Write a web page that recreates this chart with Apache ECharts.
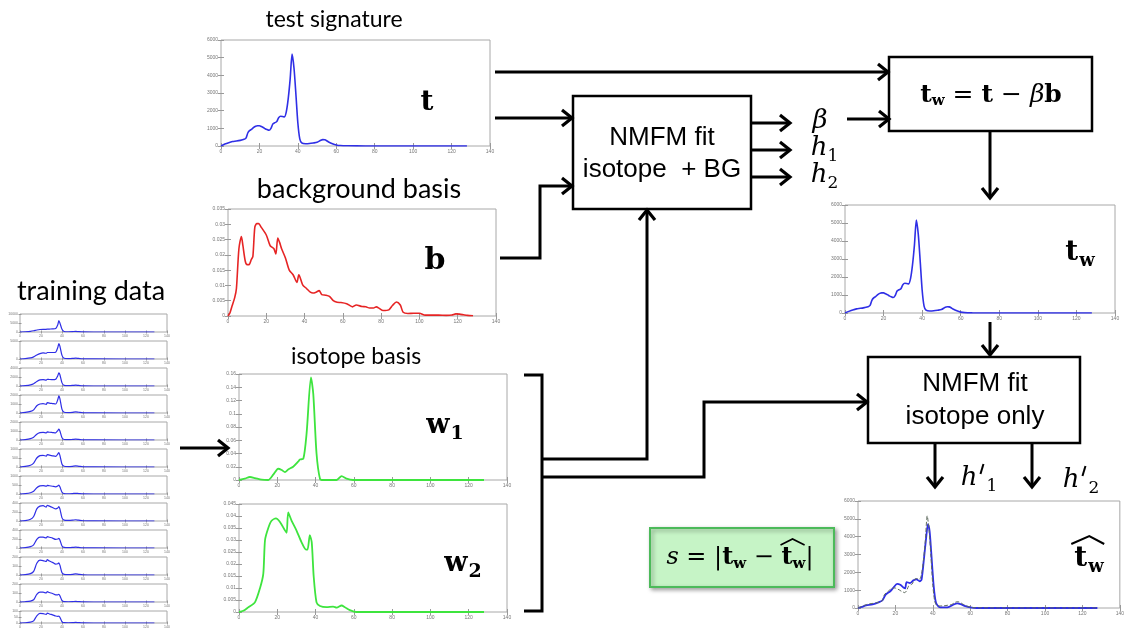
<!DOCTYPE html>
<html><head><meta charset="utf-8">
<script src="https://cdn.jsdelivr.net/npm/echarts@6/dist/echarts.min.js"></script>
<style>html,body{margin:0;padding:0;background:#fff}#c{width:1127px;height:629px}</style>
</head><body><div id="c"></div>
<script>
// ---------- data ----------
const xTicks = [0, 20, 40, 60, 80, 100, 120, 140];
const testSig = [[0,0],[2,110],[4,190],[6,250],[8,280],[10,320],[12,380],[13,450],[14,750],[15,880],[16,950],[17,1050],[18,1120],[19,1150],[20,1150],[21,1100],[22,1050],[23,980],[24,930],[25,890],[26,1000],[27,1250],[28,1320],[29,1380],[30,1600],[31,1680],[32,1670],[33,1650],[34,1950],[35,2700],[36,3800],[37,5200],[38,4400],[39,2900],[40,1300],[41,400],[42,180],[44,130],[46,140],[48,170],[50,210],[52,330],[53,360],[54,350],[55,300],[56,230],[58,130],[60,60],[62,25],[66,10],[75,3],[90,0],[128,0]];
const bgBasis = [[0,0],[1,0.001],[2,0.003],[3.5,0.006],[4.4,0.009],[5.7,0.022],[7,0.026],[7.8,0.023],[9,0.018],[10,0.0168],[11,0.0168],[12.2,0.0185],[13,0.0195],[14,0.029],[15,0.0302],[16,0.0302],[17.4,0.029],[20,0.0265],[22,0.023],[23,0.0225],[24,0.022],[25,0.0203],[26,0.0255],[27,0.024],[28,0.022],[30,0.019],[32,0.015],[34,0.0135],[36,0.011],[37,0.0135],[39,0.0102],[41,0.009],[43,0.0078],[44.4,0.0075],[46,0.0078],[47.6,0.0083],[49,0.007],[51,0.0068],[53,0.0064],[55,0.005],[57,0.0045],[59,0.0044],[62,0.004],[64,0.0033],[65,0.003],[67,0.0036],[70,0.0031],[72,0.003],[74,0.0026],[76,0.0026],[77.5,0.003],[79,0.0025],[81,0.0018],[84,0.002],[86,0.0035],[88,0.0046],[90,0.0036],[91.5,0.0012],[94,0.0008],[97,0.0009],[100,0.0009],[103,0.0003],[106,0.0003],[110,0.0003],[114,0.0002],[117,0.0003],[119,0.0007],[121,0.0006],[123,0.0004],[125,0.0002],[128,0.0001]];
const isoW1 = [[0,0],[3,0.002],[5.7,0.0045],[8.3,0.003],[11.8,0.0005],[15.3,0],[17.9,0.008],[20.5,0.017],[22.3,0.015],[24,0.012],[25.7,0.016],[28.3,0.02],[31,0.028],[31.8,0.031],[33.6,0.032],[35.3,0.07],[37.6,0.155],[38.8,0.13],[40.5,0.04],[42.3,0.002],[44,0],[51,0],[53.6,0.006],[56.2,0.002],[59.6,0],[128,0]];
const isoW2 = [[0,0],[2.3,0.0005],[4.9,0.002],[8.3,0.004],[11,0.01],[12.7,0.016],[13.6,0.03],[15.3,0.035],[17,0.038],[19.3,0.039],[21.4,0.0375],[24,0.034],[24.9,0.033],[25.7,0.0415],[27.5,0.038],[30,0.034],[32.7,0.029],[35,0.026],[35.8,0.026],[37,0.032],[38,0.029],[39,0.015],[40.5,0.004],[42.3,0.0025],[45.7,0.002],[49.2,0.0022],[51,0.0018],[53.6,0.0027],[55.3,0.002],[57.9,0.0008],[61.4,0],[128,0]];
const twSig = [[0,0],[2,90],[4,170],[6,230],[8,260],[10,300],[12,350],[13,420],[14,720],[15,850],[16,920],[17,1020],[18,1090],[19,1120],[20,1120],[21,1070],[22,1020],[23,950],[24,900],[25,860],[26,970],[27,1220],[28,1290],[29,1350],[30,1570],[31,1650],[32,1640],[33,1620],[34,1920],[35,2670],[36,3770],[37,5170],[38,4370],[39,2870],[40,1280],[41,380],[42,160],[44,115],[46,125],[48,155],[50,195],[52,320],[53,350],[54,340],[55,290],[56,220],[58,120],[60,50],[62,20],[66,8],[75,2],[90,0],[128,0]];
const twFit = [[0,0],[2,60],[4.3,150],[7.8,200],[11.3,330],[13,420],[14.8,750],[17.4,950],[19,1150],[20.9,1350],[22.6,1300],[24.3,1150],[25.2,1100],[26,1450],[27.8,1400],[29.6,1550],[31.3,1600],[33,1500],[34,1600],[35.3,2800],[36.5,4000],[37.4,4700],[38.3,4300],[39.1,3200],[40.5,1200],[41.7,300],[43.5,50],[47.8,30],[51.3,200],[53,260],[54.8,220],[57.4,100],[60,30],[63.5,0],[128,0]];

const trainX = [0,5,10,13,16,19,22,25,26,28,31,34,36,37,38,40,42,46,50,53,56,60,70,128];
const train1 = [0,150,400,700,1100,1400,1500,1500,1600,1650,1700,1900,4000,6300,5000,1500,300,150,200,350,200,60,10,0];
const train2 = [0,100,300,600,1100,1500,1700,1600,1800,1800,1800,1900,3200,4300,3600,1000,200,100,150,250,150,40,10,0];
const train3 = [0,80,250,500,1000,1350,1400,1300,1500,1450,1400,1500,2300,2900,2500,700,150,80,120,200,120,30,5,0];
const train4 = [0,60,180,350,800,1000,1050,950,1150,1100,1050,1000,1500,1900,1600,400,90,50,80,130,80,20,5,0];
const train5 = [0,50,150,300,650,820,850,780,900,860,830,800,1050,1200,1000,250,60,35,60,90,60,15,3,0];
const train6 = [0,30,100,220,500,630,650,600,690,660,620,590,720,800,650,150,40,25,40,60,40,10,2,0];
const train7 = [0,20,70,150,350,450,470,430,480,460,430,400,450,500,400,100,25,15,25,40,25,6,1,0];
const train8 = [0,10,40,100,270,330,340,310,350,330,300,270,290,320,270,70,20,12,18,28,18,5,1,0];
const train9 = [0,8,30,70,190,240,240,225,255,240,220,190,200,215,180,45,12,8,12,20,12,3,1,0];
const train10 = [0,4,15,40,130,165,160,150,170,155,140,120,125,135,110,25,7,5,7,12,7,2,0,0];
const train11 = [0,3,10,25,85,110,110,100,115,105,95,80,80,85,70,15,4,3,4,7,4,1,0,0];
const train12 = [0,2,7,18,60,80,78,72,83,75,68,58,55,58,48,10,3,2,3,5,3,1,0,0];
const trainSets = [train1,train2,train3,train4,train5,train6,train7,train8,train9,train10,train11,train12];
const trainMax = [10000,5000,4000,2000,2000,1000,1000,400,400,200,200,100];
const trainStep = [5000,5000,2000,1000,1000,500,500,200,200,100,100,50];

// ---------- chart construction ----------
const BLUE = '#2f2fe6', RED = '#e62424', GREEN = '#3ee43e', GRAY = '#5f6b5f';
const grids = [], xAxes = [], yAxes = [], series = [];
const fmt = v => String(parseFloat(Number(v).toPrecision(6)));
function addPlot(p) {
  const gi = grids.length;
  grids.push({left: p.left, top: p.top, width: p.w, height: p.h, show: true, borderColor: '#a8a8a8', borderWidth: 1, backgroundColor: '#fff', containLabel: false});
  const lab = {fontSize: p.fs, color: '#777', margin: p.m, fontFamily: 'Liberation Sans', formatter: fmt, hideOverlap: false};
  const tick = {show: true, inside: true, length: p.tl, lineStyle: {color: '#999', width: 1}};
  const common = {gridIndex: gi, type: 'value', axisLine: {show: false}, splitLine: {show: false}, axisTick: tick};
  xAxes.push(Object.assign({}, common, {min: xTicks[0], max: xTicks[xTicks.length-1], interval: xTicks[1]-xTicks[0], position: 'bottom', axisLabel: Object.assign({}, lab, {showMinLabel: true, showMaxLabel: true})}));
  xAxes.push(Object.assign({}, common, {min: 0, max: 140, interval: 20, position: 'top', axisLabel: {show: false}}));
  yAxes.push(Object.assign({}, common, {min: 0, max: p.ymax, interval: p.yint, position: 'left', axisLabel: lab}));
  yAxes.push(Object.assign({}, common, {min: 0, max: p.ymax, interval: p.yint, position: 'right', axisLabel: {show: false}}));
  p.lines.forEach(l => series.push({type: 'line', xAxisIndex: 2*gi, yAxisIndex: 2*gi, data: l.data, symbol: 'none', smooth: 0.25, lineStyle: {color: l.color, width: l.width, type: l.type || 'solid'}, silent: true, z: l.z || 2}));
}
const big = {fs: 5, m: 3, tl: 3};
addPlot(Object.assign({left: 221, top: 40, w: 269, h: 106, ymax: 6000, yint: 1000, lines: [{data: testSig, color: BLUE, width: 1.6}]}, big));
addPlot(Object.assign({left: 228, top: 209, w: 268, h: 107, ymax: 0.035, yint: 0.005, lines: [{data: bgBasis, color: RED, width: 1.6}]}, big));
addPlot(Object.assign({left: 239, top: 374, w: 268, h: 106, ymax: 0.16, yint: 0.02, lines: [{data: isoW1, color: GREEN, width: 1.8}]}, big));
addPlot(Object.assign({left: 239, top: 504, w: 268, h: 108, ymax: 0.045, yint: 0.005, lines: [{data: isoW2, color: GREEN, width: 1.8}]}, big));
addPlot(Object.assign({left: 845, top: 205, w: 270, h: 108, ymax: 6000, yint: 1000, lines: [{data: twSig, color: BLUE, width: 1.6}]}, big));
addPlot(Object.assign({left: 858, top: 501, w: 268, h: 107, ymax: 6000, yint: 1000, lines: [{data: twSig, color: GRAY, width: 1, type: 'dashed', z: 3}, {data: twFit, color: BLUE, width: 1.8}]}, big));
trainSets.forEach((vals, i) => {
  addPlot({left: 20, top: 314 + 27*i, w: 147, h: 18, ymax: trainMax[i], yint: trainStep[i], fs: 3.5, m: 2, tl: 1.5,
    lines: [{data: trainX.map((x, k) => [x, vals[k]]), color: BLUE, width: 1.2}]});
});

// ---------- graphics ----------
const G = [];
const mctx = document.createElement('canvas').getContext('2d');
function measure(s, font) { mctx.font = font; return mctx.measureText(s).width; }
function txt(x, y, s, font, align, fill) {
  align = align || 'center';
  G.push({type: 'text', x: x, y: y, z: 100, silent: true,
    style: {text: s, font: font, fill: fill || '#000', textAlign: align, align: align, textVerticalAlign: 'middle', verticalAlign: 'middle'}});
}
function formula(cx, cy, segs) {
  const total = segs.reduce((a, s) => a + measure(s[0], s[1]) + (s[3] || 0), 0);
  let x = cx - total / 2; const pos = [];
  segs.forEach(s => { x += (s[3] || 0); pos.push(x); txt(x, cy + (s[2] || 0), s[0], s[1], 'left'); x += measure(s[0], s[1]); });
  pos.push(x);
  return pos;
}
function pline(pts, w, z) {
  G.push({type: 'polyline', z: z || 90, silent: true, shape: {points: pts}, style: {stroke: '#000', lineWidth: w || 3, fill: null, lineJoin: 'miter', lineCap: 'butt'}});
}
function arrow(pts) {
  const n = pts.length, a = pts[n-2], b = pts[n-1];
  const ang = Math.atan2(b[1]-a[1], b[0]-a[0]), ux = Math.cos(ang), uy = Math.sin(ang);
  const shaft = pts.slice(0, n-1).concat([[b[0]-ux*2, b[1]-uy*2]]);
  pline(shaft, 3);
  const L = 10, W = 8, bx = b[0]-ux*L, by = b[1]-uy*L, px = -uy, py = ux;
  pline([[bx+px*W, by+py*W], [b[0], b[1]], [bx-px*W, by-py*W]], 3.2);
}
function box(x, y, w, h, fill, stroke, lw, shadow) {
  const el = {type: 'rect', z: 80, silent: true, shape: {x: x, y: y, width: w, height: h}, style: {fill: fill, stroke: stroke, lineWidth: lw}};
  if (shadow) { el.style.shadowBlur = 4; el.style.shadowColor = 'rgba(0,0,0,0.35)'; el.style.shadowOffsetX = 2; el.style.shadowOffsetY = 2; }
  G.push(el);
}

txt(334, 20, 'test signature', '23px Lato');
txt(359, 189, 'background basis', '27px Lato');
txt(356, 357, 'isotope basis', '23px Lato');
txt(91, 291, 'training data', '27px Lato');

const SERIF = '"DejaVu Serif"';
const BIG = 'bold 28px ' + SERIF, SUBB = 'bold 18px ' + SERIF, SUBN = 'bold 19px ' + SERIF;
txt(427, 103, 't', BIG);
txt(435, 261, 'b', 'bold 30px ' + SERIF);
formula(445, 426, [['w', 'bold 27px ' + SERIF, 0], ['1', SUBN, 8, 1]]);
formula(463, 564, [['w', 'bold 27px ' + SERIF, 0], ['2', SUBN, 8, 1]]);
formula(1080, 253, [['t', BIG, 0], ['w', SUBB, 8, 1]]);
const hp = formula(1089, 559, [['t', BIG, 0], ['w', SUBB, 8, 1]]);
pline([[hp[0] - 3, 544], [hp[0] + 15, 536], [hp[1] + 16, 544]], 2);

// boxes
box(573, 96, 178, 113, '#fff', '#000', 2.5);
box(889, 57, 203, 74, '#fff', '#000', 2.5);
box(868, 357, 212, 86, '#fff', '#000', 2.5);
box(650, 528, 184, 59, '#c6f4c6', '#4cba5a', 2, true);

const SANS = '26px "Liberation Sans"';
txt(662, 138, 'NMFM fit', SANS);
txt(662, 170, 'isotope  + BG', SANS);
txt(975, 384, 'NMFM fit', SANS);
txt(975, 417, 'isotope only', SANS);

const B24 = 'bold 25px ' + SERIF, S15 = 'bold 15px ' + SERIF, R24 = '25px ' + SERIF, I24 = 'italic 25px ' + SERIF;
formula(991, 95, [['t', B24, 0], ['w', S15, 6], [' = ', R24, 0], ['t', B24, 0], [' − ', R24, 0], ['β', I24, 0], ['b', B24, 0]]);
const B2 = 'bold 24px ' + SERIF, R2 = '24px ' + SERIF, I2 = 'italic 24px ' + SERIF;
const sp = formula(740, 558, [['s', I2, 0], [' = ', R2, 0], ['|', R2, 0], ['t', B2, 0], ['w', S15, 6], [' − ', R2, 0], ['t', B2, 0], ['w', S15, 6], ['|', R2, 0]]);
pline([[sp[6] - 1, 545], [sp[6] + 11, 539], [sp[7] + 12, 545]], 1.6, 101);

const MI = 'italic 26px ' + SERIF, MR = '17px ' + SERIF;
txt(820, 121, 'β', MI);
txt(819, 148, 'h', MI); txt(833, 157, '1', MR);
txt(819, 175, 'h', MI); txt(833, 184, '2', MR);
const p1 = formula(979, 478, [['h', MI, 0], ['1', MR, 9, 9]]);
pline([[p1[1] - 3, 464], [p1[1] - 6, 474]], 2, 101);
const p2 = formula(1081, 480, [['h', MI, 0], ['2', MR, 9, 9]]);
pline([[p2[1] - 3, 466], [p2[1] - 6, 476]], 2, 101);

// arrows and connectors
arrow([[495, 72], [888, 72]]);
arrow([[495, 118], [572, 118]]);
arrow([[500, 258], [540, 258], [540, 186], [572, 186]]);
arrow([[751, 123], [790, 123]]);
arrow([[751, 150], [790, 150]]);
arrow([[751, 177], [790, 177]]);
arrow([[847, 119], [889, 119]]);
arrow([[990, 131], [990, 198]]);
arrow([[990, 322], [990, 355]]);
arrow([[935, 443], [935, 487]]);
arrow([[1032, 443], [1032, 487]]);
pline([[524, 375], [542, 375], [542, 611], [524, 611]], 3);
arrow([[542, 459], [647, 459], [647, 210]]);
arrow([[542, 477], [704, 477], [704, 402], [867, 402]]);
arrow([[180, 448], [228, 448]]);

const chart = echarts.init(document.getElementById('c'), null, {renderer: 'canvas'});
chart.setOption({animation: false, backgroundColor: '#fff', grid: grids, xAxis: xAxes, yAxis: yAxes, series: series, graphic: G});
</script></body></html>
